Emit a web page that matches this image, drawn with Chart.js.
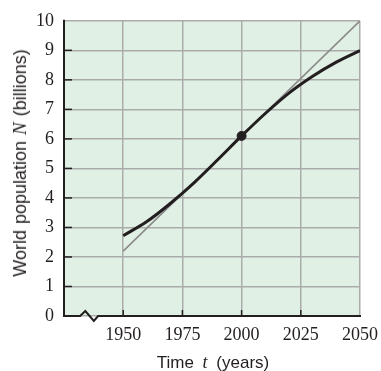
<!DOCTYPE html>
<html>
<head>
<meta charset="utf-8">
<script src="https://cdn.jsdelivr.net/npm/chart.js@4/dist/chart.umd.min.js"></script>
<style>
body { margin: 0; background: #fff; }
#wrap { position: relative; width: 381px; height: 371px; }
.axis-title {
    position: absolute;
    font-family: "Liberation Sans", Arial, sans-serif;
    color: #231f20;
    white-space: nowrap;
    line-height: 18px;
}
.axis-title i { font-family: "Liberation Serif", serif; }
#xtitle { left: 213px; top: 353px; font-size: 17px; word-spacing: 4px; transform: translateX(-50%); }
#xtitle i { font-size: 18px; }
#ytitle { left: 20px; top: 163px; font-size: 18px; word-spacing: 1px; transform: translate(-50%, -50%) rotate(-90deg); }
#ytitle i { font-size: 19px; }
</style>
</head>
<body>
<div id="wrap">
    <canvas id="popChart"></canvas>
    <div id="xtitle" class="axis-title">Time <i>t</i> (years)</div>
    <div id="ytitle" class="axis-title">World population <i>N</i> (billions)</div>
</div>
<script>
// logistic-looking population curve
const years = [1950, 1960, 1970, 1980, 1990, 2000, 2010, 2020, 2030, 2040, 2050];
const population = [2.72, 3.2, 3.82, 4.52, 5.3, 6.1, 6.86, 7.55, 8.12, 8.6, 8.99];

// tangent line through the inflection point
const tangentYears = [1950, 2050];
const tangentValues = [2.2, 10];

const markYears = [2000];
const markValues = [6.1];

const xTicks = [1925, 1950, 1975, 2000, 2025, 2050];
const yTicks = [0, 1, 2, 3, 4, 5, 6, 7, 8, 9, 10];

const ink = '#231f20';

const toPoints = (xs, ys) => xs.map((x, i) => ({ x: x, y: ys[i] }));

const framePlugin = {
    id: 'frame',
    beforeDraw(chart) {
        const { ctx, chartArea: a } = chart;
        ctx.save();
        ctx.fillStyle = '#e1f0e5';
        ctx.fillRect(a.left, a.top, a.width, a.height);
        ctx.restore();
    },
    afterDraw(chart) {
        const { ctx, chartArea: a } = chart;
        const xs = chart.scales.x;
        const ys = chart.scales.y;

        ctx.save();
        ctx.strokeStyle = ink;
        ctx.lineWidth = 2;
        ctx.lineCap = 'butt';

        // left axis
        ctx.beginPath();
        ctx.moveTo(a.left, a.top - 1);
        ctx.lineTo(a.left, a.bottom + 1);
        ctx.stroke();

        // bottom axis with a break mark
        const b0 = xs.getPixelForValue(1931.8);
        const b1 = xs.getPixelForValue(1934);
        const b2 = xs.getPixelForValue(1937.6);
        const b3 = xs.getPixelForValue(1939.4);
        ctx.beginPath();
        ctx.moveTo(a.left - 1, a.bottom);
        ctx.lineTo(b0, a.bottom);
        ctx.lineTo(b1, a.bottom - 5);
        ctx.lineTo(b2, a.bottom + 5);
        ctx.lineTo(b3, a.bottom);
        ctx.lineTo(a.right + 1, a.bottom);
        ctx.stroke();

        // short dark tick stubs inside the frame
        ctx.lineWidth = 1.5;
        yTicks.slice(1, -1).forEach(v => {
            const y = ys.getPixelForValue(v);
            ctx.beginPath();
            ctx.moveTo(a.left, y);
            ctx.lineTo(a.left + 8, y);
            ctx.stroke();
        });
        xTicks.slice(1, -1).forEach(v => {
            const x = xs.getPixelForValue(v);
            ctx.beginPath();
            ctx.moveTo(x, a.bottom);
            ctx.lineTo(x, a.bottom - 6);
            ctx.stroke();
        });
        ctx.restore();
    }
};

const tickFont = { family: '"Liberation Serif", "Times New Roman", serif', size: 18 };

new Chart(document.getElementById('popChart'), {
    type: 'scatter',
    data: {
        datasets: [
            {
                label: 'N(2000)',
                data: toPoints(markYears, markValues),
                pointRadius: 4.5,
                pointBackgroundColor: ink,
                pointBorderColor: ink,
                showLine: false,
                order: 0
            },
            {
                label: 'Population',
                data: toPoints(years, population),
                showLine: true,
                borderColor: ink,
                borderWidth: 3,
                pointRadius: 0,
                cubicInterpolationMode: 'monotone',
                order: 1
            },
            {
                label: 'Tangent',
                data: toPoints(tangentYears, tangentValues),
                showLine: true,
                borderColor: '#8a8a8a',
                borderWidth: 1.6,
                pointRadius: 0,
                order: 2
            }
        ]
    },
    options: {
        responsive: true,
        maintainAspectRatio: false,
        animation: false,
        layout: { padding: { top: 19, right: 21, left: 0, bottom: 0 } },
        plugins: {
            legend: { display: false },
            tooltip: { enabled: false }
        },
        scales: {
            x: {
                type: 'linear',
                min: 1925,
                max: 2050,
                afterBuildTicks: s => { s.ticks = xTicks.map(v => ({ value: v })); },
                afterFit: s => { s.height = 55; s.paddingLeft = 0; s.paddingRight = 0; },
                grid: { color: '#ababab', lineWidth: 1.5, drawTicks: false },
                border: { display: false },
                ticks: {
                    padding: 8,
                    color: ink,
                    font: tickFont,
                    callback: v => (v === 1925 ? '' : String(v))
                }
            },
            y: {
                min: 0,
                max: 10,
                afterBuildTicks: s => { s.ticks = yTicks.map(v => ({ value: v })); },
                afterFit: s => { s.width = 64; },
                grid: { color: '#ababab', lineWidth: 1.5, drawTicks: false },
                border: { display: false },
                ticks: {
                    padding: 10,
                    color: ink,
                    font: tickFont,
                    callback: v => String(v)
                }
            }
        }
    },
    plugins: [framePlugin]
});
</script>
</body>
</html>
